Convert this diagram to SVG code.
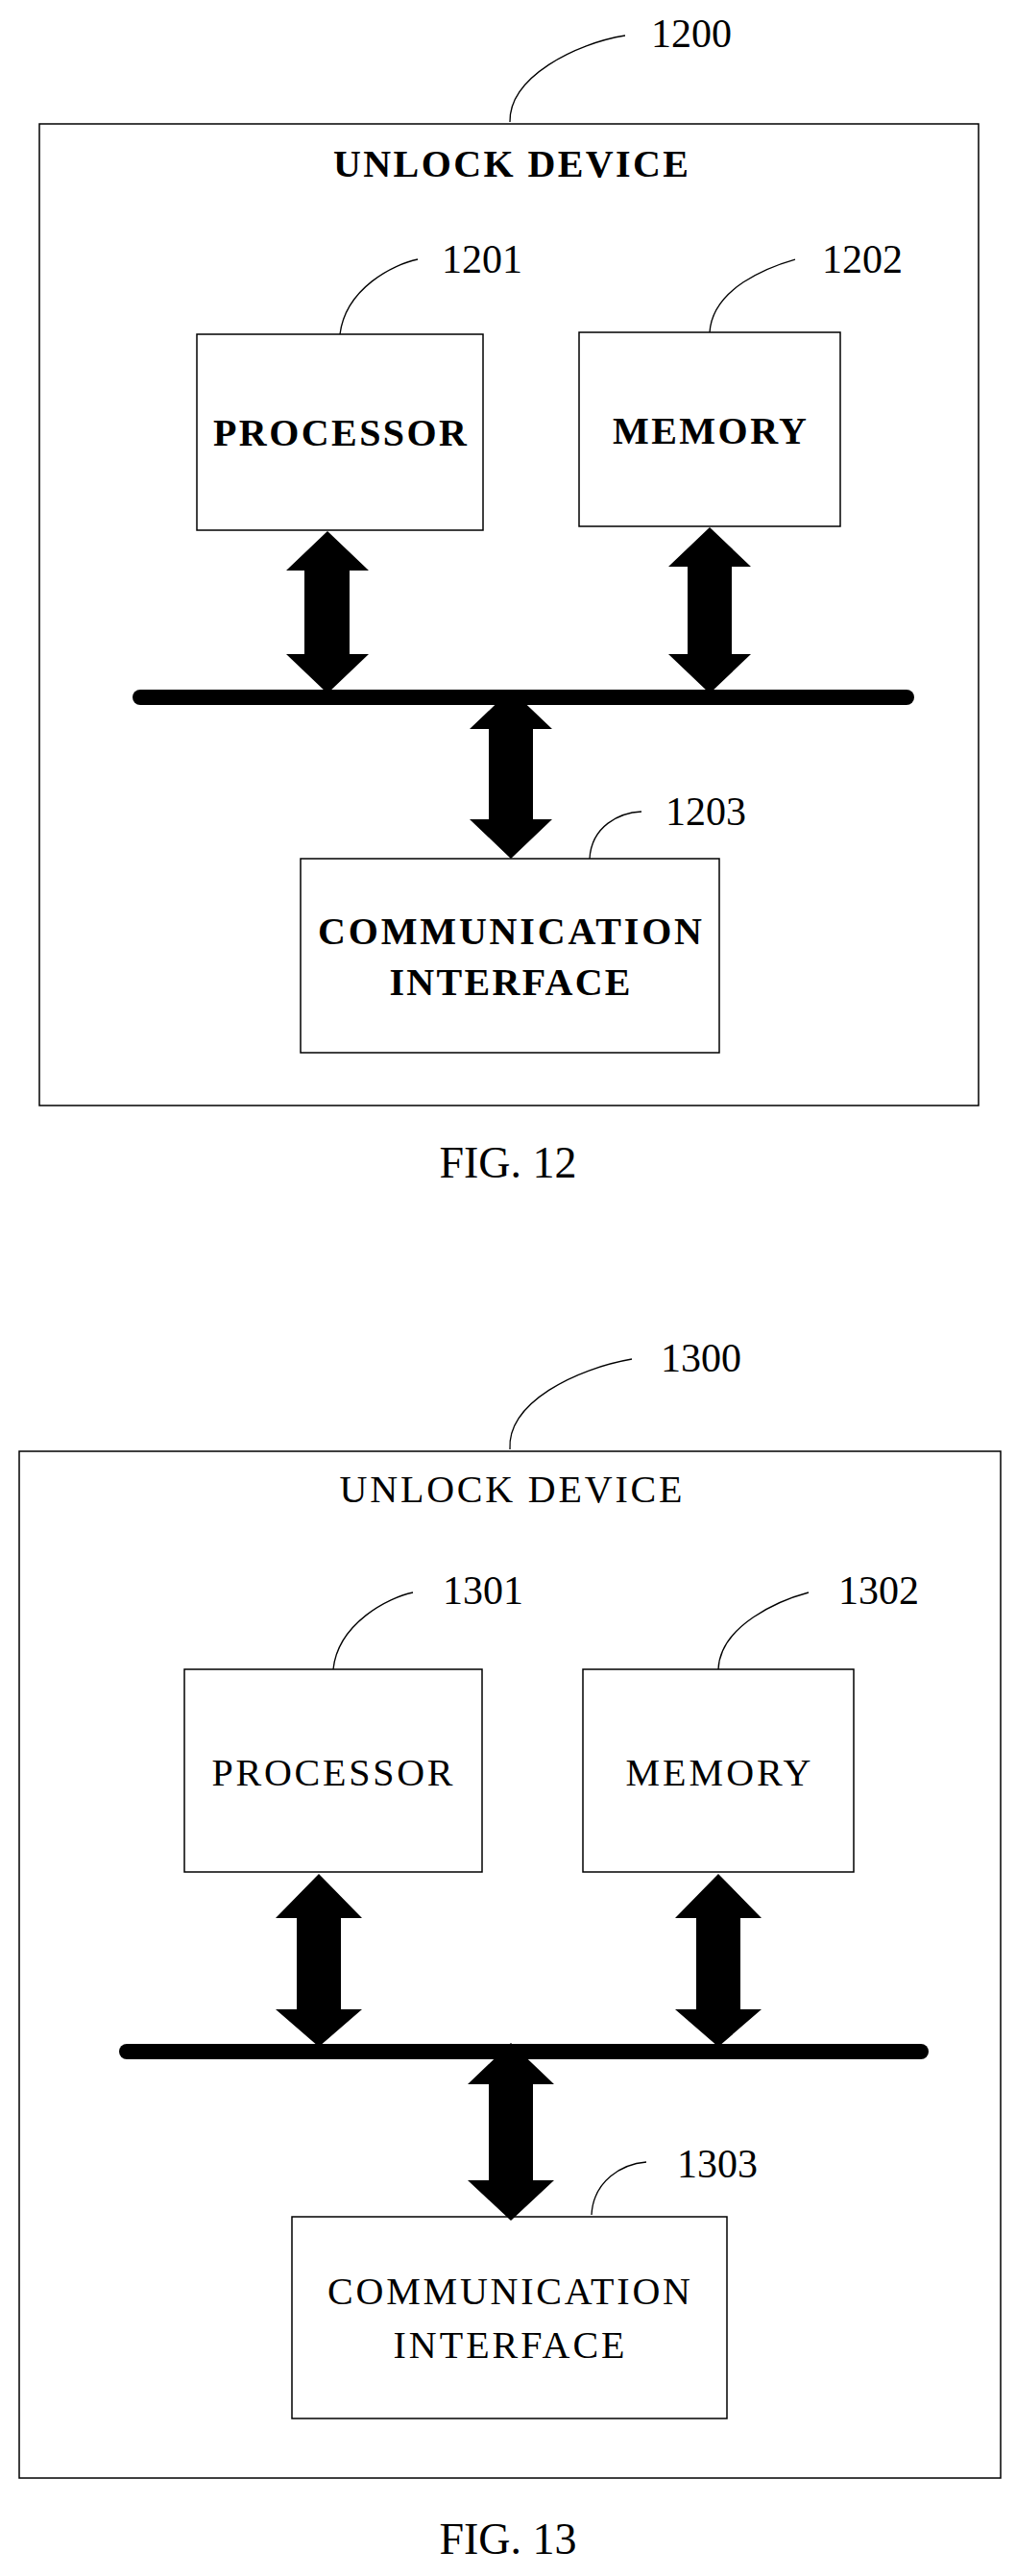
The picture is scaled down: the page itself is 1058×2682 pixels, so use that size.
<svg xmlns="http://www.w3.org/2000/svg" width="1058" height="2682" viewBox="0 0 1058 2682">
<style>
text{font-family:"Liberation Serif","Times New Roman",serif;fill:#000;text-anchor:middle}
.b{font-weight:bold}
.lbl{font-size:40px}
.num{font-size:42px;text-anchor:start}
.fig{font-size:46px}
.box{fill:#fff;stroke:#000;stroke-width:1.5}
.lead{fill:none;stroke:#000;stroke-width:1.3}
.bus{stroke:#000;stroke-width:16;stroke-linecap:round}
.arr{fill:#000}
</style>
<rect width="1058" height="2682" fill="#fff"/>
<!-- FIG 12 -->
<g id="n1200"><rect class="box" x="41" y="129" width="978" height="1022"/>
<text class="lbl b" x="532" y="184" textLength="370" lengthAdjust="spacing">UNLOCK DEVICE</text>
<path class="lead" d="M531,127 C530,80 600,45 651,37"/><text class="num" x="678" y="49">1200</text></g>
<g id="n1201"><rect class="box" x="205" y="348" width="298" height="204"/>
<text class="lbl b" x="354" y="464" textLength="264" lengthAdjust="spacing">PROCESSOR</text>
<path class="lead" d="M354,348 C360,300 410,275 435,270"/><text class="num" x="460" y="284">1201</text></g>
<g id="n1202"><rect class="box" x="603" y="346" width="272" height="202"/>
<text class="lbl b" x="739" y="462" textLength="202" lengthAdjust="spacing">MEMORY</text>
<path class="lead" d="M739,346 C742,300 800,278 828,270"/><text class="num" x="856" y="284">1202</text></g>
<g id="n1203"><rect class="box" x="313" y="894" width="436" height="202"/>
<text class="lbl b" x="531" y="983" textLength="400" lengthAdjust="spacing">COMMUNICATION</text>
<text class="lbl b" x="531" y="1036" textLength="251" lengthAdjust="spacing">INTERFACE</text>
<path class="lead" d="M614,894 C616,860 645,846 668,845"/><text class="num" x="693" y="859">1203</text></g>
<text class="fig" x="529" y="1226">FIG. 12</text>
<g id="connectors12">
<line class="bus" x1="146" y1="726" x2="944" y2="726"/>
<path class="arr" d="M341,553 L384,594 L364,594 L364,681 L384,681 L341,722 L298,681 L317,681 L317,594 L298,594 Z"/>
<path class="arr" d="M739,549 L782,590 L762,590 L762,681 L782,681 L739,722 L696,681 L716,681 L716,590 L696,590 Z"/>
<path class="arr" d="M532,718 L575,759 L555,759 L555,853 L575,853 L532,894 L489,853 L509,853 L509,759 L489,759 Z"/>
</g>
<!-- FIG 13 -->
<g id="n1300"><rect class="box" x="20" y="1511" width="1022" height="1069"/>
<text class="lbl" x="532" y="1564" textLength="357" lengthAdjust="spacing">UNLOCK DEVICE</text>
<path class="lead" d="M531,1509 C528,1460 600,1425 658,1415"/><text class="num" x="688" y="1428">1300</text></g>
<g id="n1301"><rect class="box" x="192" y="1738" width="310" height="211"/>
<text class="lbl" x="346" y="1859" textLength="251" lengthAdjust="spacing">PROCESSOR</text>
<path class="lead" d="M347,1738 C352,1690 405,1663 430,1658"/><text class="num" x="461" y="1670">1301</text></g>
<g id="n1302"><rect class="box" x="607" y="1738" width="282" height="211"/>
<text class="lbl" x="748" y="1859" textLength="193" lengthAdjust="spacing">MEMORY</text>
<path class="lead" d="M748,1738 C750,1692 812,1666 842,1658"/><text class="num" x="873" y="1670">1302</text></g>
<g id="n1303"><rect class="box" x="304" y="2308" width="453" height="210"/>
<text class="lbl" x="530" y="2399" textLength="378" lengthAdjust="spacing">COMMUNICATION</text>
<text class="lbl" x="530" y="2455" textLength="241" lengthAdjust="spacing">INTERFACE</text>
<path class="lead" d="M616,2306 C618,2270 648,2253 673,2251"/><text class="num" x="705" y="2267">1303</text></g>
<text class="fig" x="529" y="2659">FIG. 13</text>
<g id="connectors13">
<line class="bus" x1="132" y1="2136" x2="959" y2="2136"/>
<path class="arr" d="M332,1951 L377,1997 L355,1997 L355,2092 L377,2092 L332,2131 L287,2092 L309,2092 L309,1997 L287,1997 Z"/>
<path class="arr" d="M748,1951 L793,1997 L771,1997 L771,2092 L793,2092 L748,2131 L703,2092 L725,2092 L725,1997 L703,1997 Z"/>
<path class="arr" d="M532,2127 L577,2170 L555,2170 L555,2270 L577,2270 L532,2312 L487,2270 L509,2270 L509,2170 L487,2170 Z"/>
</g>
</svg>
